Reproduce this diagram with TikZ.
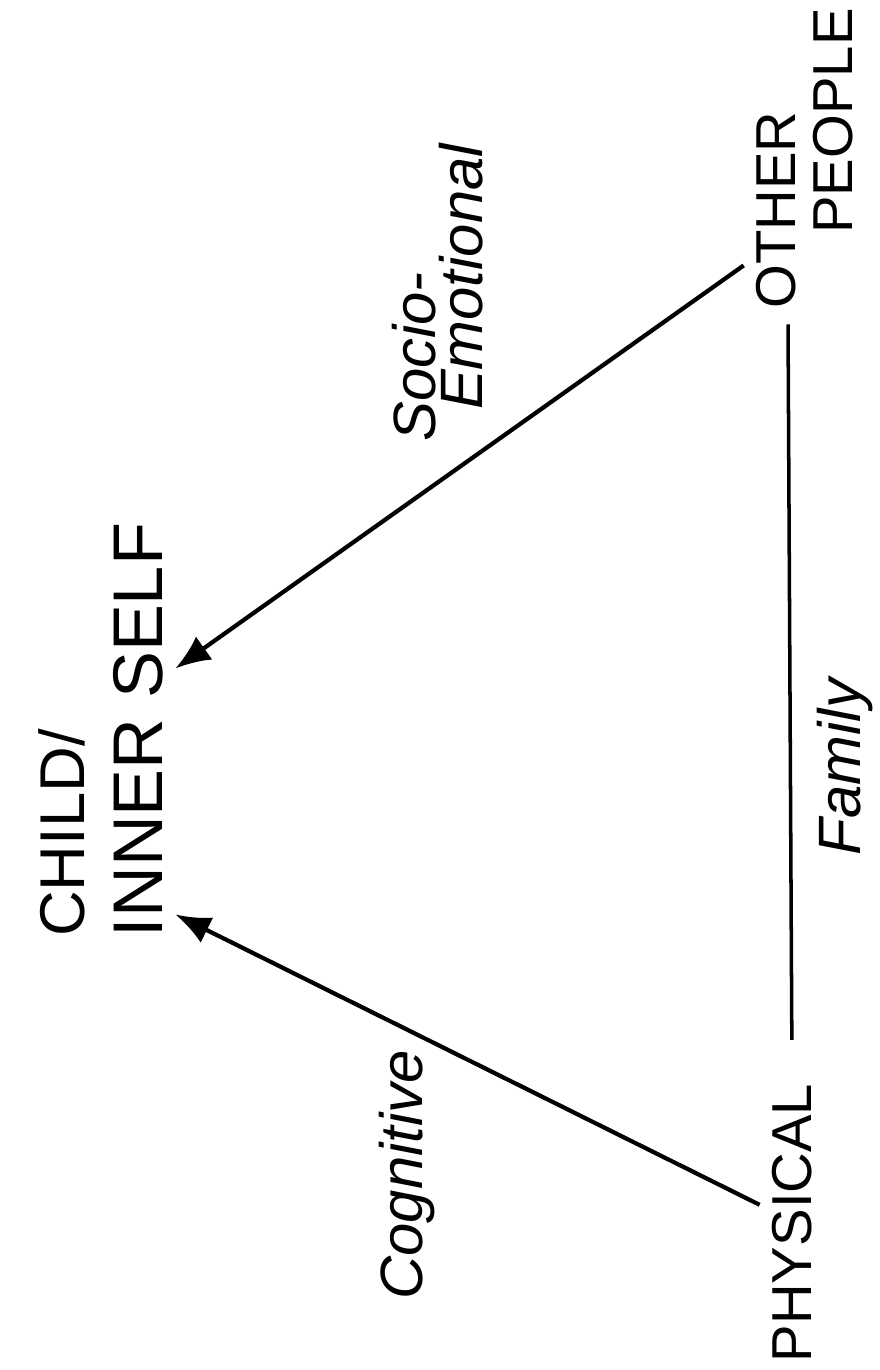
\documentclass[tikz,border=0pt]{standalone}
\usepackage{fontspec}
\setmainfont{Liberation Sans}
\usetikzlibrary{arrows.meta, calc}

\begin{document}
\begin{tikzpicture}[x=0.01cm, y=-0.01cm,
    place/.style={rotate=90, font=\fontsize{16}{19}\selectfont},
    aspect/.style={rotate=90, font=\fontsize{17}{20}\selectfont\itshape},
    link/.style={line width=1.2pt, -{Latex[length=10pt, width=8pt]}}]
    \useasboundingbox (0,0) rectangle (880,1370);

    \node (child) [place, font=\fontsize{18}{21}\selectfont] at (62,833) {CHILD/};
    \node (self) [place, font=\fontsize{20}{24}\selectfont] at (138,730) {INNER SELF};
    \node (other) [place] at (776,210) {OTHER};
    \node (people) [place] at (833,121) {PEOPLE};
    \node (physical) [place] at (792,1223) {PHYSICAL};

    \node (cog) [aspect] at (407,1175) {Cognitive};
    \node (socio) [aspect] at (414,357) {Socio-};
    \node (emo) [aspect] at (461,277) {Emotional};
    \node (fam) [aspect] at (845,767) {Family};

    \draw [link] ($(physical.north)!0.12!(physical.north east)$) -- ($(self.south west)!0.08!(self.south east)$);
    \draw [link] ($(other.north)!0.5!(other.north west)$) -- ($(self.south west)!0.64!(self.south east)$);
    \draw [line width=1pt, shorten >=9pt, shorten <=1pt] ($(other.west)+(12,0)$) -- (physical.east);
\end{tikzpicture}
\end{document}
